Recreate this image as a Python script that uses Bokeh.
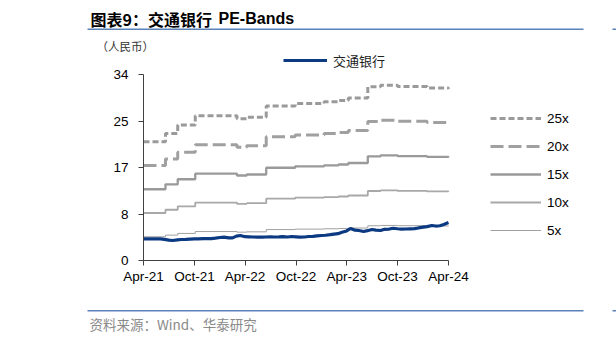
import pandas as pd
from bokeh.plotting import figure
from bokeh.models import (Range1d, FixedTicker, Label, Legend, LegendItem,
                          BoxAnnotation)
from bokeh.embed import file_html
from bokeh.resources import INLINE

# ---------------- data ----------------
price_dates = pd.date_range("2021-04-01", "2024-04-01", freq="SMS")
price = [3.97, 3.95, 3.98, 3.94, 3.96, 3.85, 3.72, 3.66, 3.78, 3.84,
         3.86, 3.92, 3.97, 3.94, 3.99, 4.02, 4.00, 4.08, 4.20, 4.26,
         4.15, 4.14, 4.45, 4.57, 4.35, 4.33, 4.30, 4.28, 4.26, 4.30,
         4.33, 4.30, 4.33, 4.36, 4.30, 4.39, 4.33, 4.27, 4.30, 4.39,
         4.42, 4.50, 4.57, 4.62, 4.72, 4.82, 4.90, 5.15, 5.40, 5.85,
         5.55, 5.48, 5.30, 5.45, 5.66, 5.55, 5.48, 5.70, 5.75, 5.90,
         5.80, 5.73, 5.76, 5.79, 5.82, 5.95, 6.09, 6.20, 6.40, 6.30,
         6.35, 6.60, 6.95]

band_dates = pd.to_datetime([
    "2021-04-01", "2021-06-19", "2021-08-02", "2021-10-04", "2022-03-03",
    "2022-04-07", "2022-06-16", "2022-09-28", "2023-01-10", "2023-03-03",
    "2023-04-07", "2023-06-16", "2023-08-01", "2023-10-01", "2024-01-15",
    "2024-04-01"])
band_25x = [21.70, 23.20, 24.75, 26.45, 25.90, 26.20, 28.25, 28.70, 29.00,
            29.25, 29.70, 31.75, 32.05, 31.80, 31.55, 31.40]
band_20x = [17.36, 18.56, 19.80, 21.16, 20.72, 20.96, 22.60, 22.96, 23.20,
            23.40, 23.76, 25.40, 25.64, 25.44, 25.24, 25.10]
band_15x = [13.02, 13.92, 14.85, 15.87, 15.54, 15.72, 16.95, 17.22, 17.40,
            17.55, 17.82, 19.05, 19.23, 19.08, 18.93, 18.83]
band_10x = [8.68, 9.28, 9.90, 10.58, 10.36, 10.48, 11.30, 11.48, 11.60,
            11.70, 11.88, 12.70, 12.82, 12.72, 12.62, 12.55]
band_5x = [4.34, 4.64, 4.95, 5.29, 5.18, 5.24, 5.65, 5.74, 5.80, 5.85,
           5.94, 6.35, 6.41, 6.36, 6.31, 6.28]
band_names = ["25x", "20x", "15x", "10x", "5x"]
price_name = "交通银行"

y_ticks = [0, 8.5, 17, 25.5, 34]
y_tick_labels = ["0", "8", "17", "25", "34"]
x_tick_dates = ["2021-04-01", "2021-10-01", "2022-04-01", "2022-10-01",
                "2023-04-01", "2023-10-01", "2024-04-01"]
x_tick_labels = ["Apr-21", "Oct-21", "Apr-22", "Oct-22", "Apr-23",
                 "Oct-23", "Apr-24"]

title_cn = "图表9：交通银行"
title_en = "PE-Bands"
unit_text = "（人民币）"
source_text = "资料来源：Wind、华泰研究"

# ---------------- layout ----------------
W, H = 616, 340
AX_L, AX_R, AX_T, AX_B = 143, 448, 74, 260   # axis box in canvas px
t0 = pd.Timestamp(x_tick_dates[0]).value / 1e6
t1 = pd.Timestamp(x_tick_dates[-1]).value / 1e6
y0, y1 = y_ticks[0], y_ticks[-1]
kx = (AX_R - AX_L) / (t1 - t0)
ky = (AX_B - AX_T) / (y1 - y0)

# the frame covers the whole canvas; axes are pinned inside it
p = figure(width=W, height=H, x_axis_type="datetime",
           output_backend="svg", toolbar_location=None,
           x_range=Range1d(t0 - AX_L / kx, t0 + (W - AX_L) / kx),
           y_range=Range1d(y0 - (H - AX_B) / ky, y0 + AX_B / ky),
           min_border=0)
p.outline_line_color = None
p.grid.visible = False
p.background_fill_color = "white"
p.border_fill_color = "white"


def sx(cx):
    return cx


def sy(cy):
    return H - cy


AX = "#404040"
for ax in (p.xaxis[0], p.yaxis[0]):
    ax.axis_line_color = AX
    ax.axis_line_width = 1
    ax.major_tick_line_color = AX
    ax.minor_tick_line_color = None
    ax.major_tick_in = 0
    ax.major_tick_out = 5
    ax.major_label_text_font = "Liberation Sans"
    ax.major_label_text_font_size = "13.5px"
    ax.major_label_text_color = "#000000"

p.yaxis.fixed_location = t0
p.yaxis.bounds = (y0, y1)
p.yaxis.ticker = FixedTicker(ticks=y_ticks)
p.yaxis.major_label_overrides = {float(t): l for t, l in zip(y_ticks, y_tick_labels)}
p.yaxis.major_label_standoff = 10

x_tick_ms = [pd.Timestamp(d).value / 1e6 for d in x_tick_dates]
p.xaxis.fixed_location = y0
p.xaxis.bounds = (t0, t1)
p.xaxis.ticker = FixedTicker(ticks=x_tick_ms)
p.xaxis.major_label_overrides = {t: l for t, l in zip(x_tick_ms, x_tick_labels)}
p.xaxis.major_label_standoff = 3

# ---------------- bands ----------------
band_values = [band_25x, band_20x, band_15x, band_10x, band_5x]
band_styles = [
    dict(line_color="#9a9a9a", line_width=3, line_dash="6 3"),
    dict(line_color="#a0a0a0", line_width=3, line_dash="13 5"),
    dict(line_color="#9a9a9a", line_width=2.3),
    dict(line_color="#a8a8a8", line_width=1.8),
    dict(line_color="#a0a0a0", line_width=1),
]
band_renderers = []
for vals, st in zip(band_values, band_styles):
    r = p.step(band_dates, vals, mode="after", **st)
    band_renderers.append(r)

pr = p.line(price_dates, price, line_color="#0c3a82", line_width=3.2)

# ---------------- legends ----------------
leg_bands = Legend(items=[LegendItem(label=n, renderers=[r])
                          for n, r in zip(band_names, band_renderers)],
                   location=(sx(490), sy(108 + 132)),
                   orientation="vertical")
leg_price = Legend(items=[LegendItem(label=price_name, renderers=[pr])],
                   location=(sx(283), sy(70)))
for lg in (leg_bands, leg_price):
    lg.padding = 0
    lg.margin = 0
    lg.border_line_color = None
    lg.background_fill_alpha = 0
    lg.label_text_color = "#000000"
    lg.glyph_height = 20
    lg.label_height = 20
    lg.label_standoff = 6
leg_bands.spacing = 8
leg_bands.glyph_width = 51
leg_bands.label_text_font = "Liberation Sans"
leg_bands.label_text_font_size = "13.5px"
leg_price.glyph_width = 44
leg_price.label_text_font = "Noto Sans CJK SC"
leg_price.label_text_font_size = "13px"
leg_price.label_text_color = "#222222"
p.add_layout(leg_bands, "center")
p.add_layout(leg_price, "center")

# ---------------- texts ----------------
p.add_layout(Label(x=sx(90), y=sy(18), x_units="screen", y_units="screen",
                   text=title_cn, text_font="Noto Sans CJK SC",
                   text_font_style="bold", text_font_size="16px",
                   text_baseline="middle", text_color="#000000"))
p.add_layout(Label(x=sx(218), y=sy(18), x_units="screen", y_units="screen",
                   text=title_en, text_font="Liberation Sans",
                   text_font_style="bold", text_font_size="16px",
                   text_baseline="middle", text_color="#000000"))
p.add_layout(Label(x=sx(96), y=sy(45), x_units="screen", y_units="screen",
                   text=unit_text, text_font="Noto Sans CJK SC",
                   text_font_size="11.5px", text_baseline="middle",
                   text_color="#333333"))
p.add_layout(Label(x=sx(89), y=sy(323), x_units="screen", y_units="screen",
                   text=source_text, text_font="Noto Sans CJK SC",
                   text_font_size="13.5px", text_baseline="middle",
                   text_color="#8a8a8a"))

# rule lines
RULE = "#5b82b8"
for (l, r, t) in [(87, 583, 28), (87, 583, 309.5), (612, 620, 28), (612, 620, 309.5)]:
    p.add_layout(BoxAnnotation(left=sx(l), right=sx(r), top=sy(t), bottom=sy(t + 1.5),
                               left_units="screen", right_units="screen",
                               top_units="screen", bottom_units="screen",
                               fill_color=RULE, fill_alpha=1, line_color=None))

open("out.html", "w").write(file_html(p, INLINE))
